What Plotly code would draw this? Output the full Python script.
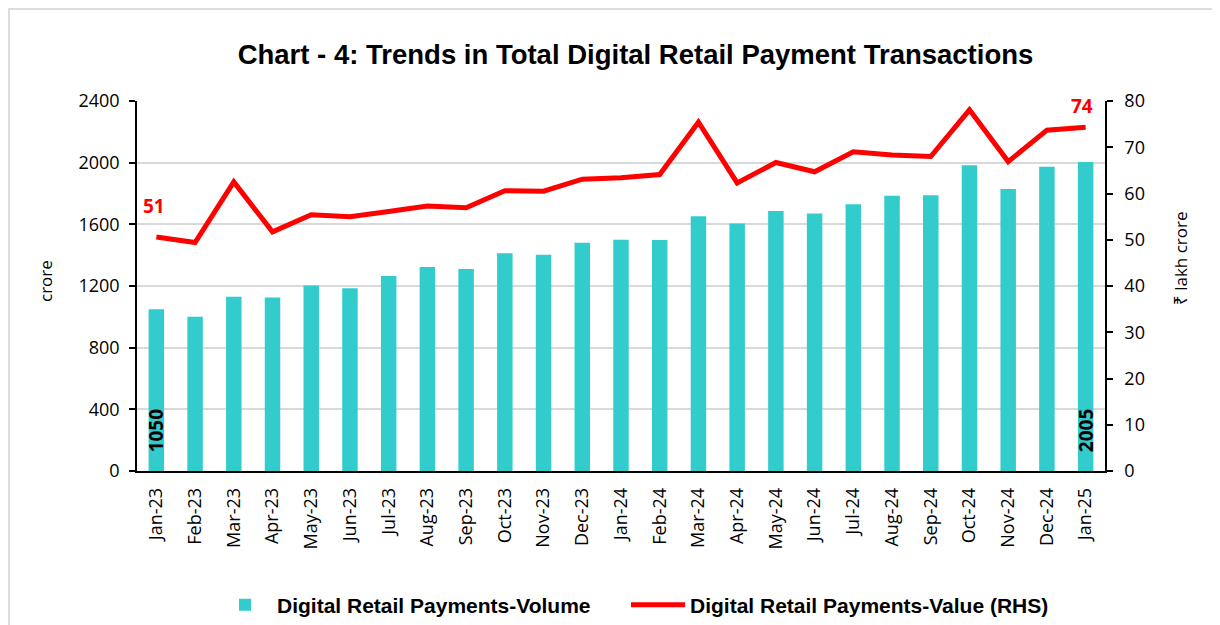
import plotly.graph_objects as go

months = ["Jan-23", "Feb-23", "Mar-23", "Apr-23", "May-23", "Jun-23", "Jul-23", "Aug-23",
          "Sep-23", "Oct-23", "Nov-23", "Dec-23", "Jan-24", "Feb-24", "Mar-24", "Apr-24",
          "May-24", "Jun-24", "Jul-24", "Aug-24", "Sep-24", "Oct-24", "Nov-24", "Dec-24", "Jan-25"]
volume = [1050, 1001, 1130, 1126, 1204, 1185, 1265, 1323, 1310, 1412, 1403, 1481, 1500,
          1498, 1652, 1606, 1686, 1671, 1731, 1786, 1788, 1983, 1829, 1974, 2005]
value = [50.6, 49.4, 62.5, 51.7, 55.4, 55.0, 56.1, 57.3, 56.9, 60.6, 60.5, 63.1, 63.4,
         64.1, 75.4, 62.3, 66.7, 64.7, 69.0, 68.3, 68.0, 78.1, 66.9, 73.7, 74.3]
left_ticks = [0, 400, 800, 1200, 1600, 2000, 2400]
right_ticks = [0, 10, 20, 30, 40, 50, 60, 70, 80]

# page has an 8px body margin: the figure is drawn 8px right/down of the page origin
OFF = 8
W, H = 1220 - OFF, 625 - OFF
L, R, T, B = 137, 1105, 101, 471   # reference page coordinates of the plot area
pw, ph = R - L, B - T

def px_x(p):
    return (p - L) / pw

def px_y(p):
    return (B - p) / ph

def cont_y(p):
    return 1 - (p - OFF) / H

NARROW = "Liberation Sans Narrow, Arial Narrow, sans-serif"
SANS = "Open Sans, Noto Sans, sans-serif"

fig = go.Figure()
fig.add_trace(go.Bar(
    x=months, y=volume, name="Digital Retail Payments-Volume", legend="legend",
    marker=dict(color="#33CCCC", line=dict(width=0)),
))
fig.add_trace(go.Scatter(
    x=months, y=value, name="Digital Retail Payments-Value (RHS)", yaxis="y2", legend="legend2",
    mode="lines", line=dict(color="#FF0000", width=5),
))

annotations = [
    dict(x=months[0], y=0, xref="x", yref="y", text=str(volume[0]), textangle=-90,
         showarrow=False, yanchor="bottom", xanchor="center", yshift=17,
         font=dict(family=SANS, size=19, color="black", weight=700)),
    dict(x=months[-1], y=0, xref="x", yref="y", text=str(volume[-1]), textangle=-90,
         showarrow=False, yanchor="bottom", xanchor="center", yshift=17,
         font=dict(family=SANS, size=19, color="black", weight=700)),
    dict(x=months[0], y=value[0], xref="x", yref="y2", text=str(round(value[0])),
         showarrow=False, yanchor="middle", xanchor="center", yshift=31, xshift=-2,
         font=dict(family=SANS, size=19, color="#FF0000", weight=700)),
    dict(x=months[-1], y=value[-1], xref="x", yref="y2", text=str(round(value[-1])),
         showarrow=False, yanchor="middle", xanchor="center", yshift=21, xshift=-4,
         font=dict(family=SANS, size=19, color="#FF0000", weight=700)),
    dict(x=px_x(45), y=px_y(281), xref="paper", yref="paper", text="crore", textangle=-90,
         showarrow=False, xanchor="center", yanchor="middle",
         font=dict(family=SANS, size=17, color="black")),
    dict(x=px_x(1180), y=px_y(259), xref="paper", yref="paper", text="₹ lakh crore",
         textangle=-90, showarrow=False, xanchor="center", yanchor="middle",
         font=dict(family=SANS, size=17, color="black")),
]

legend_common = dict(orientation="h", xref="paper", xanchor="left",
                     yref="container", yanchor="middle", y=cont_y(605),
                     font=dict(family=NARROW, size=21, color="black", weight=700),
                     itemwidth=54, borderwidth=0, bgcolor="rgba(0,0,0,0)")

fig.update_layout(
    width=W, height=H, autosize=False,
    margin=dict(l=L - OFF, r=W - (R - OFF), t=T - OFF, b=H - (B - OFF), pad=0, autoexpand=False),
    paper_bgcolor="white", plot_bgcolor="white",
    title=dict(text="Chart - 4: Trends in Total Digital Retail Payment Transactions",
               x=px_x(635.5), xref="paper", xanchor="center",
               y=cont_y(54), yref="container", yanchor="middle",
               font=dict(family=NARROW, size=27.5, color="black", weight=700)),
    bargap=0.6,
    showlegend=True,
    legend=dict(x=px_x(213), **legend_common),
    legend2=dict(x=px_x(626), **legend_common),
    xaxis=dict(type="category", showline=True, linecolor="black", linewidth=1.5,
               ticks="", tickangle=-90, showgrid=False, automargin=False,
               tickfont=dict(family=SANS, size=18, color="black"), ticklabelstandoff=8),
    yaxis=dict(range=[0, 2400], tickvals=left_ticks, showgrid=True, gridcolor="#D9D9D9",
               gridwidth=1.5, zeroline=False, showline=True, linecolor="black", linewidth=1.5,
               ticks="outside", ticklen=6, tickcolor="black", tickwidth=1.5, automargin=False,
               tickfont=dict(family=SANS, size=18, color="black"), ticklabelstandoff=6),
    yaxis2=dict(range=[0, 80], tickvals=right_ticks, overlaying="y", side="right",
                showgrid=False, zeroline=False, showline=True, linecolor="black", linewidth=1.5,
                ticks="outside", ticklen=6, tickcolor="black", tickwidth=1.5, automargin=False,
                tickfont=dict(family=SANS, size=18, color="black"), ticklabelstandoff=8),
    annotations=annotations,
    shapes=[dict(type="rect", xref="paper", yref="paper",
                 x0=px_x(9), x1=px_x(1240), y0=px_y(650), y1=px_y(9),
                 line=dict(color="#DDDDDD", width=2), fillcolor="rgba(0,0,0,0)", layer="below")],
)

fig.write_html("out.html")
